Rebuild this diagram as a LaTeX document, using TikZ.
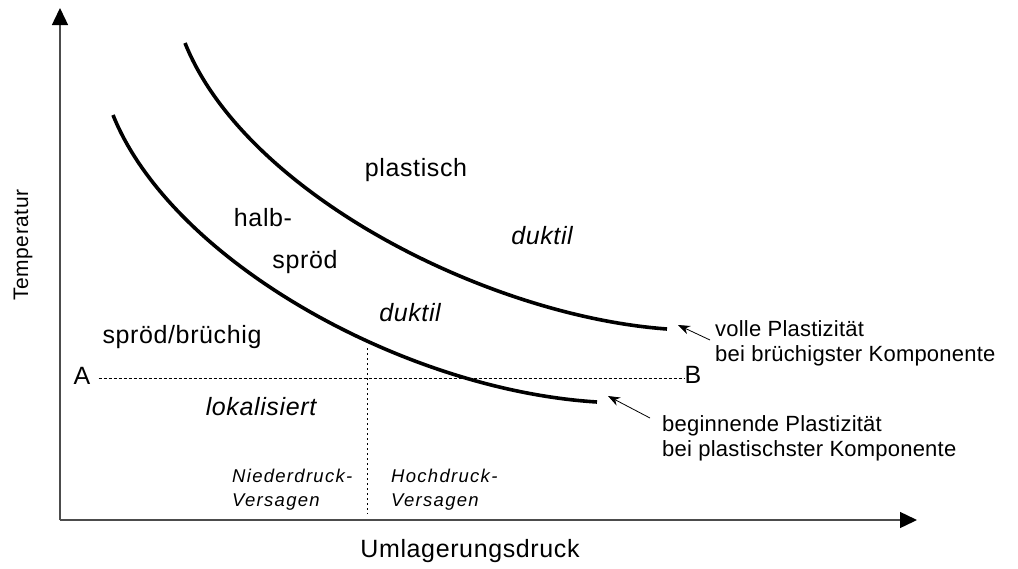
\documentclass[tikz,border=0pt]{standalone}
\usepackage{fontspec}
\setmainfont{Liberation Sans}
\newfontfamily\labelfont[LetterSpace=2.5]{Liberation Sans}
\newfontfamily\notefont[LetterSpace=1]{Liberation Sans}
\newfontfamily\smallfont[LetterSpace=7]{Liberation Sans}
\usetikzlibrary{arrows.meta}
\begin{document}
\begin{tikzpicture}[x=1pt,y=-1pt,
  axis/.style={draw=black!70,line width=1.4pt,-{Triangle[length=17pt,width=16pt,color=black]}},
  curve/.style={line width=3.6pt},
  guide/.style={line width=0.8pt,dash pattern=on 3pt off 2pt},
  divider/.style={line width=0.8pt,dash pattern=on 2pt off 3pt},
  pointer/.style={line width=0.8pt,-{Stealth[length=12pt,width=9pt]}},
  lbl/.style={inner sep=0pt,font=\labelfont\fontsize{25}{27}\selectfont},
  ilbl/.style={inner sep=0pt,font=\labelfont\itshape\fontsize{25}{27}\selectfont},
  slbl/.style={inner sep=0pt,align=left,anchor=north west,
    font=\smallfont\itshape\fontsize{18.5}{23.5}\selectfont},
  note/.style={inner sep=0pt,align=left,anchor=north west,
    font=\notefont\fontsize{22}{25}\selectfont}]
\useasboundingbox (0,0) rectangle (1018,568);

% axes
\coordinate (O) at (60,520);
\coordinate (ytop) at (60,8);
\coordinate (xend) at (917,520);
\draw[axis] (O) -- (ytop);
\draw[axis] (O) -- (xend);
\node[inner sep=0pt,rotate=90,font=\labelfont\fontsize{21}{22}\selectfont] (ylab) at (23,245) {Temperatur};
\node[lbl] (xlab) at (470,551) {Umlagerungsdruck};

% boundary curves
\coordinate (upperStart) at (185,43);
\coordinate (upperEnd) at (667,329);
\draw[curve] (upperStart) .. controls (245,193) and (487,316) .. (upperEnd);
\coordinate (lowerStart) at (113,115);
\coordinate (lowerEnd) at (597,402);
\draw[curve] (lowerStart) .. controls (171,260) and (403,390) .. (lowerEnd);

% A--B reference line and pressure divider
\node[lbl] (A) at (82,376) {A};
\node[lbl] (B) at (693,375) {B};
\draw[guide] (A.east) ++(8pt,-2pt) coordinate (Aline) -- (B.west |- Aline);
\coordinate (divTop) at (367,348);
\coordinate (divBot) at (367,514);
\draw[divider] (divTop) -- (divBot);

% region labels
\node[lbl] (plast) at (416,170) {plastisch};
\node[lbl] (halb) at (263,218) {halb-};
\node[lbl] (sprod) at (305,262) {spröd};
\node[ilbl] (duk1) at (542,236) {duktil};
\node[ilbl] (duk2) at (410,313) {duktil};
\node[lbl] (brittle) at (182,337) {spröd/brüchig};
\node[ilbl] (lokal) at (261,407) {lokalisiert};

% failure modes
\node[slbl] (nieder) at (232,469) {Niederdruck-\\Versagen};
\node[slbl] (hoch) at (391,469) {Hochdruck-\\Versagen};

% annotations
\node[note] (full) at (715,320) {volle Plastizität\\bei brüchigster Komponente};
\node[note] (begin) at (662,415) {beginnende Plastizität\\bei plastischster Komponente};
\draw[pointer] (710,340) -- ([shift={(11pt,4pt)}]upperEnd);
\draw[pointer] (650,418) -- ([shift={(11pt,6pt)}]lowerEnd);
\end{tikzpicture}
\end{document}
